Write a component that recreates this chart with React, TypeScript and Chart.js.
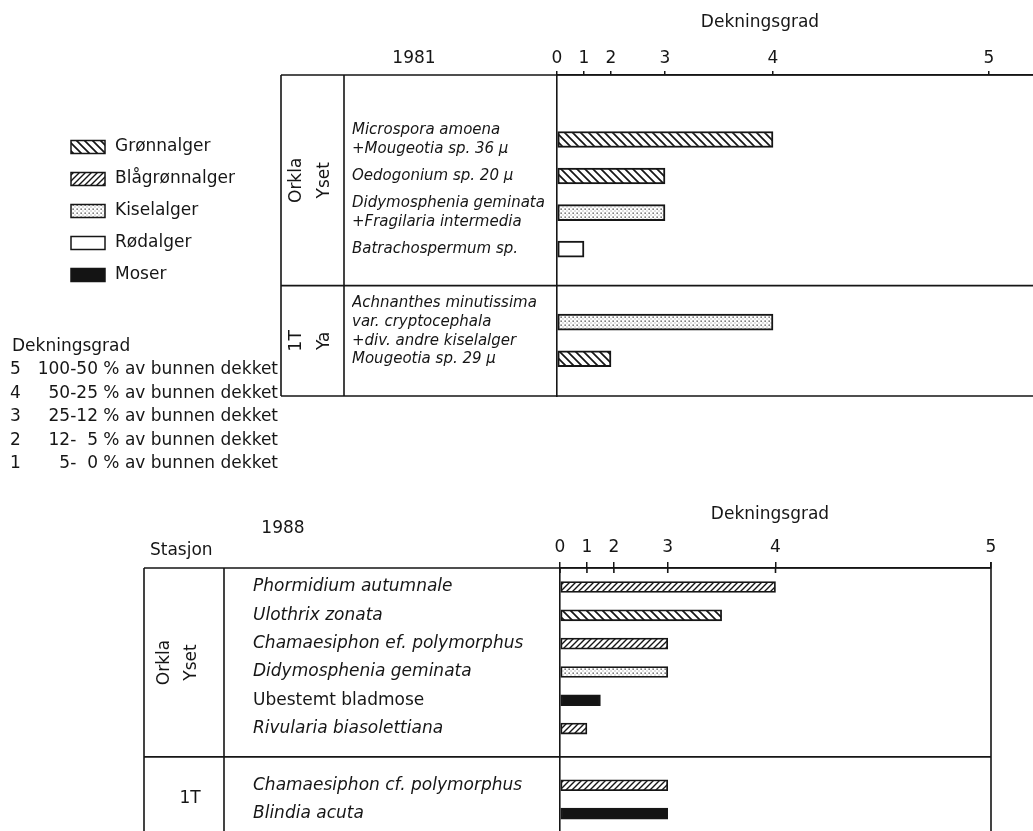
import React, { useEffect, useRef } from 'react';
import { Chart, registerables } from 'chart.js';

Chart.register(...registerables);

// ---------------- data ----------------
const algaeTypes = ['Grønnalger', 'Blågrønnalger', 'Kiselalger', 'Rødalger', 'Moser'];
const gradeLabels = ['0', '1', '2', '3', '4', '5'];
// axis position of each grade (the printed axis doubles its step per grade)
const gradeUnits = [0, 2, 4, 8, 16, 32];
const coverageGrades = ['5', '4', '3', '2', '1'];
const coverageTexts = [
  '100-50 % av bunnen dekket',
  '50-25 % av bunnen dekket',
  '25-12 % av bunnen dekket',
  '12-  5 % av bunnen dekket',
  '5-  0 % av bunnen dekket',
];

const species1981 = [
  'Microspora amoena\n+Mougeotia sp. 36 μ',
  'Oedogonium sp. 20 μ',
  'Didymosphenia geminata\n+Fragilaria intermedia',
  'Batrachospermum sp.',
  '',
  'Achnanthes minutissima\nvar. cryptocephala\n+div. andre kiselalger',
  'Mougeotia sp. 29 μ',
];
const types1981 = ['Grønnalger', 'Grønnalger', 'Kiselalger', 'Rødalger', '', 'Kiselalger', 'Grønnalger'];
const values1981: (number | null)[] = [4, 3, 3, 1, null, 4, 2];
const stations1981 = [['Orkla', 'Yset'], ['1T', 'Ya']];

const species1988 = [
  'Phormidium autumnale',
  'Ulothrix zonata',
  'Chamaesiphon ef. polymorphus',
  'Didymosphenia geminata',
  'Ubestemt bladmose',
  'Rivularia biasolettiana',
  '',
  'Chamaesiphon cf. polymorphus',
  'Blindia acuta',
];
const types1988 = ['Blågrønnalger', 'Grønnalger', 'Blågrønnalger', 'Kiselalger', 'Moser', 'Blågrønnalger', '', 'Blågrønnalger', 'Moser'];
const values1988: (number | null)[] = [4, 3.5, 3, 3, 1.5, 1, null, 3, 3];
const stations1988 = [['Orkla', 'Yset'], ['1T']];
const uprightLabels = ['Ubestemt bladmose'];

// ---------------- helpers ----------------
const INK = '#161616';
const FONT = '"DejaVu Sans", sans-serif';

function toAxis(v: number): number {
  const k = Math.min(Math.floor(v), gradeUnits.length - 2);
  return gradeUnits[k] + (v - k) * (gradeUnits[k + 1] - gradeUnits[k]);
}

function makePatterns(): Record<string, CanvasPattern | string> {
  const mk = (size: number, draw: (c: CanvasRenderingContext2D, s: number) => void) => {
    const cv = document.createElement('canvas');
    cv.width = size;
    cv.height = size;
    const c = cv.getContext('2d')!;
    c.fillStyle = '#fff';
    c.fillRect(0, 0, size, size);
    draw(c, size);
    return c.createPattern(cv, 'repeat')!;
  };
  const back = mk(8, (c, s) => {
    c.strokeStyle = INK;
    c.lineWidth = 1.7;
    c.beginPath();
    c.moveTo(-2, -2); c.lineTo(s + 2, s + 2);
    c.moveTo(-2, s - 2); c.lineTo(2, s + 2);
    c.moveTo(s - 2, -2); c.lineTo(s + 2, 2);
    c.stroke();
  });
  const fwd = mk(6, (c, s) => {
    c.strokeStyle = INK;
    c.lineWidth = 1.4;
    c.beginPath();
    c.moveTo(-2, s + 2); c.lineTo(s + 2, -2);
    c.moveTo(-2, 2); c.lineTo(2, -2);
    c.moveTo(s - 2, s + 2); c.lineTo(s + 2, s - 2);
    c.stroke();
  });
  const dots = mk(4, (c) => {
    c.fillStyle = '#3a3a3a';
    c.fillRect(0.5, 0.5, 1.3, 1.3);
    c.fillStyle = '#888';
    c.fillRect(2.5, 2.5, 1, 1);
  });
  return {
    'Grønnalger': back,
    'Blågrønnalger': fwd,
    'Kiselalger': dots,
    'Rødalger': '#ffffff',
    'Moser': '#141414',
  };
}

interface PanelCfg {
  top: number;
  height: number;
  species: string[];
  types: string[];
  values: (number | null)[];
  stations: string[][];
  year: string;
  yearX: number;
  yearY: number;
  titleX: number;
  titleY: number;
  labelLeft: number;
  zeroX: number;
  right: number;
  axisY: number;
  bottomY: number;
  rowMin: number;
  rowMax: number;
  xMax: number;
  barThickness: number;
  barBorder: number;
  labelSize: number;
  labelLine: number;
  tableLeft: number;
  tableDivider: number;
  lineRight: number;
  stationX: number[];
  stationSingleX: number;
  tickLength: number;
  tickPad: number;
  crossTicks: boolean;
  rightBorder: boolean;
  legend: boolean;
  stasjon: boolean;
}

const panel1981: PanelCfg = {
  top: 0, height: 480,
  species: species1981, types: types1981, values: values1981, stations: stations1981,
  year: '1981', yearX: 414, yearY: 59, titleX: 760, titleY: 23,
  labelLeft: 352, zeroX: 557, right: 1033, axisY: 75, bottomY: 396,
  rowMin: -1.765, rowMax: 7.02, xMax: 35.26,
  barThickness: 16, barBorder: 2, labelSize: 15, labelLine: 1.24,
  tableLeft: 281, tableDivider: 344, lineRight: 1033,
  stationX: [297, 325], stationSingleX: 312,
  tickLength: 4, tickPad: 2, crossTicks: false, rightBorder: false, legend: true, stasjon: false,
};

const panel1988: PanelCfg = {
  top: 480, height: 380,
  species: species1988, types: types1988, values: values1988, stations: stations1988,
  year: '1988', yearX: 283, yearY: 529, titleX: 770, titleY: 515,
  labelLeft: 253, zeroX: 560, right: 991, axisY: 568, bottomY: 840,
  rowMin: -0.671, rowMax: 8.934, xMax: 32,
  barThickness: 11, barBorder: 1.8, labelSize: 17, labelLine: 1.2,
  tableLeft: 144, tableDivider: 224, lineRight: 991,
  stationX: [165, 192], stationSingleX: 190,
  tickLength: 6, tickPad: 4, crossTicks: true, rightBorder: true, legend: false, stasjon: true,
};

function decorPlugin(cfg: PanelCfg) {
  return {
    id: 'decor' + cfg.year,
    afterDraw(chart: any) {
      const ctx: CanvasRenderingContext2D = chart.ctx;
      const area = chart.chartArea;
      const ys = chart.scales.y;
      const xs = chart.scales.x;
      const off = cfg.top;
      ctx.save();
      ctx.fillStyle = INK;
      ctx.strokeStyle = INK;
      ctx.textBaseline = 'middle';

      // titles
      ctx.font = `17px ${FONT}`;
      ctx.textAlign = 'center';
      ctx.fillText('Dekningsgrad', cfg.titleX, cfg.titleY - off);
      ctx.fillText(cfg.year, cfg.yearX, cfg.yearY - off);
      if (cfg.stasjon) {
        ctx.textAlign = 'left';
        ctx.fillText('Stasjon', 150, 551 - off);
      }

      // table frame
      const blanks: number[] = [];
      cfg.species.forEach((s, i) => { if (!s) blanks.push(i); });
      const seps = blanks.map((b) => ys.getPixelForValue(b));
      ctx.lineWidth = 1.6;
      ctx.beginPath();
      const hLines = [area.top, ...seps];
      if (!cfg.rightBorder) hLines.push(area.bottom);
      hLines.forEach((y) => {
        ctx.moveTo(cfg.tableLeft, y);
        ctx.lineTo(cfg.lineRight, y);
      });
      [cfg.tableLeft, cfg.tableDivider].forEach((x) => {
        ctx.moveTo(x, area.top);
        ctx.lineTo(x, area.bottom);
      });
      if (cfg.rightBorder) {
        ctx.moveTo(area.right, area.top - cfg.tickLength);
        ctx.lineTo(area.right, area.bottom);
      }
      if (cfg.crossTicks) {
        gradeUnits.forEach((u) => {
          const x = xs.getPixelForValue(u);
          ctx.moveTo(x, area.top);
          ctx.lineTo(x, area.top + 5);
        });
      }
      ctx.stroke();

      // station labels
      const bounds = [area.top, ...seps, area.bottom];
      cfg.stations.forEach((st, g) => {
        const cy = (bounds[g] + bounds[g + 1]) / 2;
        ctx.font = `17px ${FONT}`;
        ctx.textAlign = 'center';
        if (st.length > 1) {
          st.forEach((name, k) => {
            ctx.save();
            ctx.translate(cfg.stationX[k], cy);
            ctx.rotate(-Math.PI / 2);
            ctx.fillText(name, 0, 0);
            ctx.restore();
          });
        } else {
          ctx.fillText(st[0], cfg.stationSingleX, cy);
        }
      });

      // legend + coverage classes
      if (cfg.legend) {
        chart.data.datasets.forEach((ds: any, i: number) => {
          const y = 147 + i * 32;
          ctx.fillStyle = ds.backgroundColor;
          ctx.fillRect(71, y - 6.5, 34, 13);
          ctx.lineWidth = 1.5;
          ctx.strokeStyle = INK;
          ctx.strokeRect(71, y - 6.5, 34, 13);
          ctx.fillStyle = INK;
          ctx.font = `17px ${FONT}`;
          ctx.textAlign = 'left';
          ctx.fillText(ds.label, 115, y);
        });
        ctx.font = `17px ${FONT}`;
        ctx.textAlign = 'left';
        ctx.fillText('Dekningsgrad', 12, 347);
        coverageGrades.forEach((g, i) => {
          const y = 370 + i * 23.5;
          ctx.textAlign = 'left';
          ctx.fillText(g, 10, y);
          ctx.textAlign = 'right';
          ctx.fillText(coverageTexts[i], 278, y);
        });
      }
      ctx.restore();
    },
  };
}

function Panel({ cfg }: { cfg: PanelCfg }) {
  const ref = useRef<HTMLCanvasElement>(null);
  useEffect(() => {
    const patterns = makePatterns();
    const datasets = algaeTypes.map((t) => ({
      label: t,
      data: cfg.values
        .map((v, i) => (cfg.types[i] === t && v != null ? { x: toAxis(v), y: i } : null))
        .filter((p) => p !== null),
      backgroundColor: patterns[t] as any,
      borderColor: INK,
      borderWidth: cfg.barBorder,
      borderSkipped: false as const,
      barThickness: cfg.barThickness,
      grouped: false,
    }));
    const rows = cfg.species.map((s, i) => (s ? i : -1)).filter((i) => i >= 0);
    const chart = new Chart(ref.current!, {
      type: 'bar',
      data: { datasets: datasets as any },
      plugins: [decorPlugin(cfg)],
      options: {
        responsive: false,
        animation: false,
        devicePixelRatio: 1,
        events: [],
        indexAxis: 'y',
        layout: {
          padding: {
            left: cfg.labelLeft,
            right: 1033 - cfg.right,
            top: cfg.axisY - cfg.top - 40,
            bottom: cfg.top + cfg.height - cfg.bottomY,
          },
        },
        plugins: { legend: { display: false }, tooltip: { enabled: false }, title: { display: false } },
        scales: {
          x: {
            type: 'linear',
            position: 'top',
            min: 0,
            max: cfg.xMax,
            offset: false,
            afterBuildTicks: (s: any) => { s.ticks = gradeUnits.map((v) => ({ value: v })); },
            afterFit: (s: any) => { s.height = 40; },
            ticks: {
              autoSkip: false,
              maxRotation: 0,
              padding: cfg.tickPad,
              color: INK,
              font: { family: FONT, size: 17 },
              callback: (v: any) => gradeLabels[gradeUnits.indexOf(Number(v))],
            },
            grid: { drawOnChartArea: false, drawTicks: true, tickLength: cfg.tickLength, color: INK, lineWidth: 1.5 },
            border: { display: true, color: INK, width: 1.6 },
          },
          y: {
            type: 'linear',
            reverse: true,
            offset: false,
            min: cfg.rowMin,
            max: cfg.rowMax,
            afterBuildTicks: (s: any) => { s.ticks = rows.map((v) => ({ value: v })); },
            afterFit: (s: any) => { s.width = cfg.zeroX - cfg.labelLeft; },
            ticks: {
              autoSkip: false,
              crossAlign: 'far',
              color: INK,
              font: (c: any) => {
                const lbl = c.tick ? cfg.species[c.tick.value] : '';
                return {
                  family: FONT,
                  size: cfg.labelSize,
                  style: uprightLabels.includes(lbl) ? 'normal' : 'italic',
                  lineHeight: cfg.labelLine,
                };
              },
              callback: (v: any) => (cfg.species[Number(v)] || '').split('\n'),
            },
            grid: { display: false, offset: false },
            border: { display: true, color: INK, width: 1.6 },
          },
        },
      } as any,
    });
    return () => chart.destroy();
  }, []);
  return (
    <canvas
      ref={ref}
      width={1033}
      height={cfg.height}
      style={{ position: 'absolute', left: 0, top: cfg.top, width: 1033, height: cfg.height, display: 'block' }}
    />
  );
}

export default function App() {
  return (
    <div style={{ position: 'fixed', left: 0, top: 0, width: 1033, height: 831, overflow: 'hidden', background: '#fff' }}>
      <Panel cfg={panel1981} />
      <Panel cfg={panel1988} />
    </div>
  );
}
